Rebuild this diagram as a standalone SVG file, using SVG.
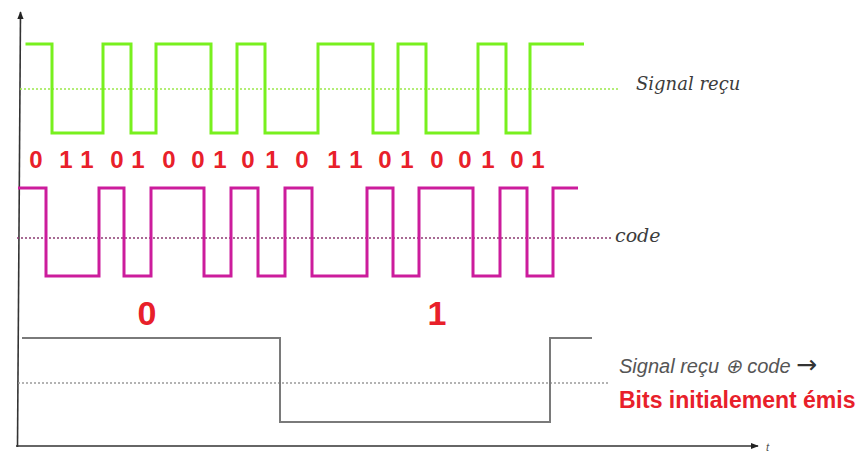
<svg xmlns="http://www.w3.org/2000/svg" width="865" height="456" viewBox="0 0 865 456">
  <style>
    .axis { stroke: #333; stroke-width: 1.6; fill: none; }
    .sig { fill: none; stroke-linejoin: miter; stroke-linecap: butt; }
    .green { stroke: #78f01e; stroke-width: 3; }
    .pink { stroke: #cc1c9c; stroke-width: 3; }
    .gray { stroke: #7a7a7a; stroke-width: 2; }
    .mid { fill: none; stroke-width: 1.3; stroke-dasharray: 2 2; }
    .chip { font-family: "Liberation Sans", Arial, sans-serif; font-weight: bold; font-size: 24px; fill: #e8202a; text-anchor: middle; }
    .bit { font-family: "Liberation Sans", Arial, sans-serif; font-weight: bold; font-size: 34px; fill: #e8202a; text-anchor: middle; }
    .lab { font-family: "DejaVu Serif", serif; font-style: italic; fill: #3c3c3c; }
  </style>
  <defs>
    <marker id="arrow" viewBox="0 0 10 10" refX="9" refY="5" markerWidth="8" markerHeight="8" orient="auto" markerUnits="userSpaceOnUse">
      <path d="M0,1 L10,5 L0,9 Z" fill="#222"/>
    </marker>
  </defs>

  <!-- axes -->
  <g id="axes">
    <line class="axis" x1="17.5" y1="447" x2="20.5" y2="12" marker-end="url(#arrow)"/>
    <line class="axis" x1="16" y1="446" x2="758" y2="446" marker-end="url(#arrow)"/>
    <text x="766" y="451" font-family="Liberation Sans, sans-serif" font-style="italic" font-size="11" fill="#555">t</text>
  </g>

  <!-- received signal -->
  <g id="signal-recu">
    <line class="mid" stroke="#9be84a" x1="20" y1="89" x2="620" y2="89"/>
    <path class="sig green" d="M25.5,44 H52 V133 H103 V44 H131 V133 H156 V44 H211 V133 H237 V44 H265 V133 H318 V44 H373 V133 H398 V44 H426 V133 H478 V44 H506 V133 H530 V44 H584"/>
    <text class="lab" x="636" y="90" font-size="18">Signal reçu</text>
  </g>

  <!-- chip values -->
  <g id="chips">
    <text class="chip" y="168">
      <tspan x="36">0</tspan><tspan x="66">1</tspan><tspan x="87">1</tspan><tspan x="117">0</tspan><tspan x="138">1</tspan><tspan x="169">0</tspan><tspan x="198">0</tspan><tspan x="220">1</tspan><tspan x="248">0</tspan><tspan x="272">1</tspan><tspan x="302">0</tspan><tspan x="334">1</tspan><tspan x="356">1</tspan><tspan x="385">0</tspan><tspan x="407">1</tspan><tspan x="437">0</tspan><tspan x="465">0</tspan><tspan x="488">1</tspan><tspan x="517">0</tspan><tspan x="538">1</tspan>
    </text>
  </g>

  <!-- spreading code -->
  <g id="code">
    <line class="mid" stroke="#8a3a70" x1="17" y1="238" x2="612" y2="238"/>
    <path class="sig pink" d="M18,188 H46 V276 H99 V188 H124 V276 H151 V188 H204 V276 H231 V188 H258 V276 H285 V188 H312 V276 H367 V188 H393 V276 H419 V188 H473 V276 H500 V188 H527 V276 H553 V188 H578"/>
    <text class="lab" x="615" y="242" font-size="19">code</text>
  </g>

  <!-- decoded bits -->
  <g id="bits">
    <text class="bit" x="147" y="325">0</text>
    <text class="bit" x="437" y="325">1</text>
  </g>

  <!-- received signal XOR code -->
  <g id="xor-result">
    <line class="mid" stroke="#9a9a9a" x1="18" y1="383" x2="610" y2="383"/>
    <path class="sig gray" d="M22,338 H280 V422 H550 V338 H592"/>
    <text x="619" y="373" font-family="Liberation Sans, Arial, sans-serif" font-style="italic" font-size="20" fill="#555">Signal reçu ⊕ code <tspan font-family="DejaVu Sans, sans-serif" font-style="normal" font-size="25" fill="#333">→</tspan></text>
    <text x="619" y="408" font-family="Liberation Sans, Arial, sans-serif" font-weight="bold" font-size="23" fill="#e8202a">Bits initialement émis</text>
  </g>
</svg>
